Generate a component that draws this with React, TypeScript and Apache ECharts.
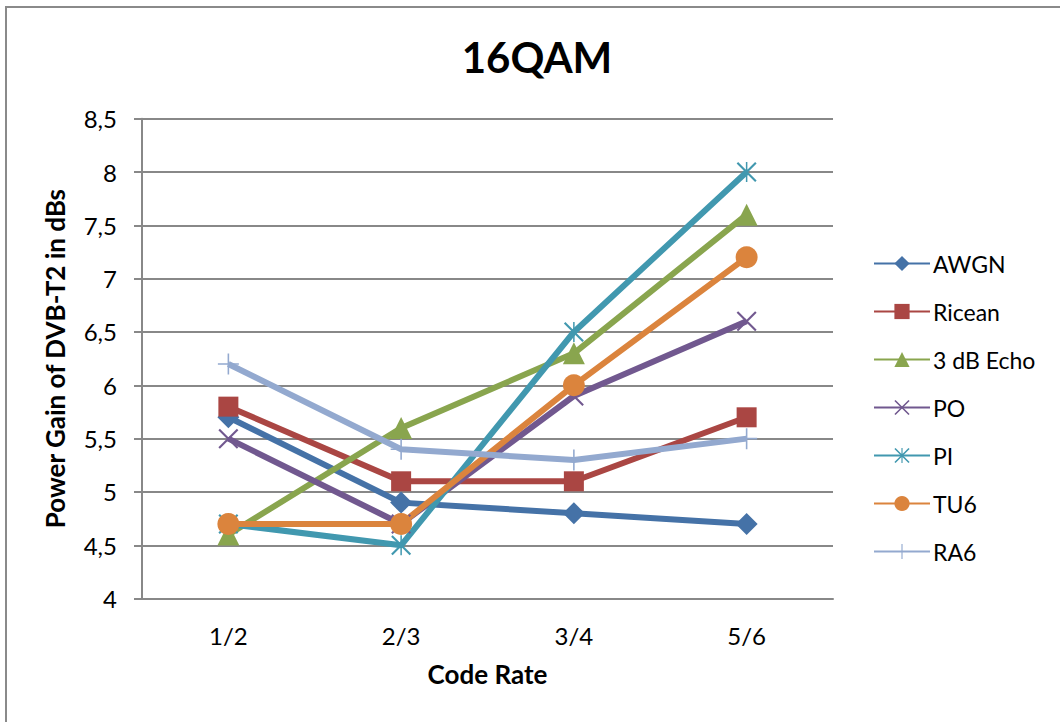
import React, { useEffect, useRef } from "react";
import * as echarts from "echarts";

// Code rates on the x axis
const codeRates = ["1/2", "2/3", "3/4", "5/6"];

// Power gain (dB) per channel model
const awgn = [5.7, 4.9, 4.8, 4.7];
const ricean = [5.8, 5.1, 5.1, 5.7];
const echo3dB = [4.6, 5.6, 6.3, 7.6];
const po = [5.5, 4.7, 5.9, 6.6];
const pi = [4.7, 4.5, 6.5, 8.0];
const tu6 = [4.7, 4.7, 6.0, 7.2];
const ra6 = [6.2, 5.4, 5.3, 5.5];

const seriesNames = ["AWGN", "Ricean", "3 dB Echo", "PO", "PI", "TU6", "RA6"];
const seriesData = [awgn, ricean, echo3dB, po, pi, tu6, ra6];
const colors = ["#4572A7", "#AA4643", "#89A54E", "#71588F", "#4198AF", "#DB843D", "#93A9CF"];

// Thin-stroke marker shapes built as filled outlines
const crossX = "path://M0,1.5 L1.5,0 L20,18.5 L18.5,20 Z M18.5,0 L20,1.5 L1.5,20 L0,18.5 Z";
const star = "path://M0,1.5 L1.5,0 L20,18.5 L18.5,20 Z M18.5,0 L20,1.5 L1.5,20 L0,18.5 Z M9.25,0 L10.75,0 L10.75,20 L9.25,20 Z";
const plus = "path://M9.25,0 L10.75,0 L10.75,20 L9.25,20 Z M0,9.25 L20,9.25 L20,10.75 L0,10.75 Z";

const symbols = ["diamond", "rect", "triangle", crossX, star, "circle", plus];
const symbolSizes = [22, 20, 22, 20, 20, 22, 21];

const FONT = "Lato, 'Open Sans', sans-serif";

export default function App() {
  const ref = useRef<HTMLDivElement>(null);

  useEffect(() => {
    if (!ref.current) return;
    const chart = echarts.init(ref.current, null, { renderer: "svg" });

    chart.setOption({
      animation: false,
      backgroundColor: "#ffffff",
      color: colors,
      title: {
        text: "16QAM",
        left: 532,
        top: 31,
        textAlign: "center",
        textStyle: { fontFamily: FONT, fontSize: 42, fontWeight: "bold", color: "#000" },
      },
      graphic: [
        {
          type: "rect",
          shape: { x: 6, y: 7, width: 1100, height: 800 },
          style: { fill: "none", stroke: "#8a8a8a", lineWidth: 2 },
          silent: true,
        },
      ],
      legend: {
        orient: "vertical",
        left: 868,
        top: 247,
        itemWidth: 56,
        itemHeight: 19,
        itemGap: 25,
        data: seriesNames,
        textStyle: {
          fontFamily: FONT,
          fontSize: 23,
          color: "#000",
          padding: [0, 0, 0, -2],
        },
      },
      grid: { left: 142, right: 227, top: 118.7, bottom: 123.4 },
      xAxis: {
        type: "category",
        data: codeRates,
        boundaryGap: true,
        name: "Code Rate",
        nameLocation: "middle",
        nameGap: 62,
        nameTextStyle: { fontFamily: FONT, fontSize: 26, fontWeight: "bold", color: "#000" },
        axisLine: { lineStyle: { color: "#888", width: 2 } },
        axisTick: { show: false },
        axisLabel: { fontFamily: FONT, fontSize: 24, color: "#000", margin: 25 },
      },
      yAxis: {
        type: "value",
        min: 4,
        max: 8.5,
        interval: 0.5,
        name: "Power Gain of DVB-T2 in dBs",
        nameLocation: "middle",
        nameGap: 74,
        nameTextStyle: { fontFamily: FONT, fontSize: 26, fontWeight: "bold", color: "#000" },
        axisLine: { show: true, lineStyle: { color: "#888", width: 2 } },
        axisTick: { show: true, length: 8, lineStyle: { color: "#888", width: 2 } },
        axisLabel: {
          fontFamily: FONT,
          fontSize: 24,
          color: "#000",
          margin: 25,
          formatter: (v: number) => String(v).replace(".", ","),
        },
        splitLine: { lineStyle: { color: "#888", width: 2 } },
      },
      series: seriesNames.map((name, i) => ({
        name,
        type: "line",
        data: seriesData[i],
        symbol: symbols[i],
        symbolSize: symbolSizes[i],
        showAllSymbol: true,
        lineStyle: { width: 6, color: colors[i] },
        itemStyle: { color: colors[i] },
        emphasis: { disabled: true },
      })),
    });

    return () => chart.dispose();
  }, []);

  return (
    <div
      ref={ref}
      style={{ position: "fixed", left: 0, top: 0, width: 1060, height: 722 }}
    />
  );
}
